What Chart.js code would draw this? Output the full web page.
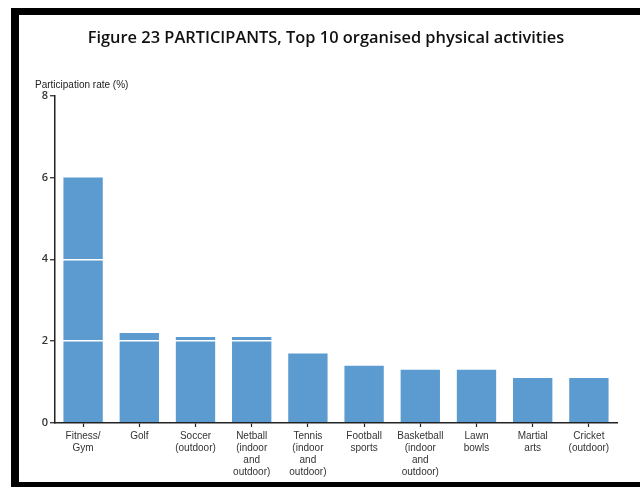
<!DOCTYPE html>
<html>
<head>
<meta charset="utf-8">
<script src="https://cdn.jsdelivr.net/npm/chart.js@4/dist/chart.umd.min.js"></script>
<style>
  html, body { margin: 0; padding: 0; background: #fff; }
  #wrap { position: relative; width: 640px; height: 492px; overflow: hidden; }
  #frame {
    position: absolute; left: 11px; top: 8px; width: 640px; height: 479px;
    box-sizing: border-box;
    border-top: 7px solid #000; border-left: 8px solid #000; border-bottom: 5px solid #000;
  }
  #chart { position: absolute; left: 0; top: 0; }
</style>
</head>
<body>
<div id="wrap">
  <div id="frame"></div>
  <canvas id="chart" width="640" height="492"></canvas>
</div>
<script>
// activities, participation rate in %
const activities = [
  ['Fitness/', 'Gym'],
  'Golf',
  ['Soccer', '(outdoor)'],
  ['Netball', '(indoor', 'and', 'outdoor)'],
  ['Tennis', '(indoor', 'and', 'outdoor)'],
  ['Football', 'sports'],
  ['Basketball', '(indoor', 'and', 'outdoor)'],
  ['Lawn', 'bowls'],
  ['Martial', 'arts'],
  ['Cricket', '(outdoor)']
];
const rates = [6.0, 2.2, 2.1, 2.1, 1.7, 1.4, 1.3, 1.3, 1.1, 1.1];
const yTicks = [0, 2, 4, 6, 8];

const narrow = "'Liberation Sans Narrow', 'Arial Narrow', 'Liberation Sans', sans-serif";

new Chart(document.getElementById('chart'), {
  type: 'bar',
  data: {
    labels: activities,
    datasets: [{
      data: rates,
      backgroundColor: '#5b9bcf',
      borderWidth: 0,
      barPercentage: 0.7,
      categoryPercentage: 1.0
    }]
  },
  options: {
    responsive: false,
    animation: false,
    layout: { padding: { left: 35, right: 23, top: 0, bottom: 0 } },
    plugins: {
      legend: { display: false },
      tooltip: { enabled: false },
      title: {
        display: true,
        text: 'Figure 23 PARTICIPANTS, Top 10 organised physical activities',
        color: '#111',
        font: { family: "'Open Sans', sans-serif", size: 16.4, weight: '600' },
        padding: { top: 28, bottom: 14 }
      },
      subtitle: {
        display: true,
        text: 'Participation rate (%)',
        align: 'start',
        color: '#222',
        font: { family: narrow, size: 10 },
        padding: { top: 18, bottom: 4 }
      }
    },
    scales: {
      x: {
        grid: { display: true, drawOnChartArea: false, offset: false, tickLength: 4, tickColor: '#222', tickWidth: 1.2 },
        border: { color: '#222', width: 1.5, z: 2 },
        ticks: {
          color: '#333',
          padding: 3,
          maxRotation: 0,
          autoSkip: false,
          font: { family: narrow, size: 10, lineHeight: 1.2 }
        },
        afterFit(scale) { scale.height = 69; }
      },
      y: {
        min: 0,
        max: 8,
        afterBuildTicks(scale) { scale.ticks = yTicks.map(v => ({ value: v })); },
        // white rules at 2 and 4 cut across the bars
        grid: {
          z: 1,
          color: ctx => (ctx.tick && (ctx.tick.value === 2 || ctx.tick.value === 4)) ? '#ffffff' : 'rgba(0,0,0,0)',
          lineWidth: 1.5,
          tickLength: 5,
          tickColor: '#222',
          tickWidth: 1.2
        },
        border: { color: '#222', width: 1.5, z: 2 },
        ticks: {
          color: '#333',
          padding: 2,
          font: { family: "'Open Sans', sans-serif", size: 11, weight: '600' }
        },
        afterFit(scale) { scale.width = 20; }
      }
    }
  }
});
</script>
</body>
</html>
